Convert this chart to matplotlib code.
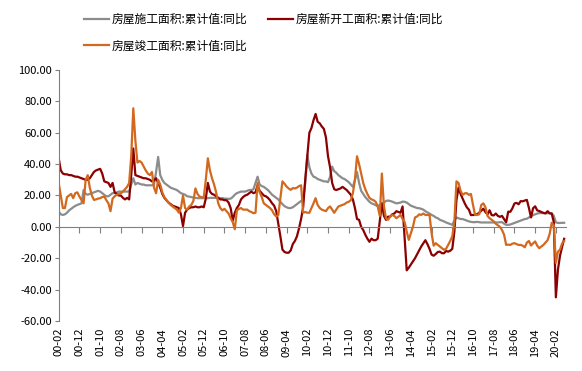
import matplotlib
matplotlib.use('Agg')
import matplotlib.pyplot as plt
import numpy as np
import pandas as pd
from matplotlib.ticker import FormatStrFormatter

# monthly, 2000-02 .. 2020-06
months = pd.period_range('2000-02', '2020-06', freq='M')
month_labels = list(months.strftime('%y-%m'))

# 房屋施工面积:累计值:同比
construction = [
    9.8, 8, 7.6, 8, 9, 10.5, 11.5, 12.5, 13.4, 14, 14.5,                  # 2000
    15, 23.5, 21, 20.5, 21, 21.5, 22, 22.5, 23, 22.5, 21.5, 20.4,         # 2001
    19.5, 19.5, 20.5, 21.5, 21.5, 22, 22.5, 22.5, 22.5, 22.5, 22.5, 22.5, # 2002
    27, 31, 27, 28, 27.5, 27, 27, 26.5, 26.5, 26.5, 26.5, 27,             # 2003
    35, 44.6, 33, 30, 28, 27, 26, 25, 24.5, 24, 23.5, 22.5,               # 2004
    21.5, 21, 20.5, 19.5, 19.3, 19, 18.7, 18.5, 18.3, 18.3, 18.3, 18.3,   # 2005
    18.3, 18.3, 18.5, 18.5, 18.5, 18.5, 18.5, 18.3, 18.3, 18, 18, 17.8,   # 2006
    18, 19, 20.5, 21.5, 22, 22.5, 22.5, 22.5, 23, 23.5, 23.5, 24,         # 2007
    28, 32, 27, 26, 25.5, 24.5, 23.5, 22, 20.5, 19.5, 18.5, 17.5,         # 2008
    16, 14.5, 13.2, 12.5, 12, 12, 12.5, 13.5, 14.5, 15.5, 16.5, 17.5,     # 2009
    28, 46, 38, 34, 32, 31.5, 30.5, 30, 29.5, 29, 29, 28.5,               # 2010
    32, 38.4, 35.5, 34.5, 33, 32, 31, 30.5, 29.5, 28.5, 27, 25.5,         # 2011
    30, 35, 28, 23, 21, 19, 17.5, 16, 15, 14.5, 13.8, 13.2,               # 2012
    14, 14.6, 15.5, 16.5, 16.8, 16.5, 16.1, 15.5, 15, 15.2, 15.5, 16.1,   # 2013
    16, 15.5, 14.5, 13.5, 13, 12.5, 12, 11.9, 11.5, 11, 10, 9.2,          # 2014
    8.5, 7.6, 7, 6, 5.5, 4.5, 4, 3.5, 2.8, 2.3, 1.8, 1.3,                 # 2015
    4, 6, 5.5, 5, 5, 4.5, 4, 3.5, 3.2, 3, 3, 3.2,                         # 2016
    3, 2.8, 2.8, 2.8, 2.8, 2.8, 2.8, 2.8, 2.8, 2.8, 3, 3,                 # 2017
    2, 1.3, 1.3, 1.5, 2, 2.5, 3, 3.5, 4, 4.5, 5, 5.2,                     # 2018
    6, 6.8, 7.5, 8, 8.5, 8.8, 8.8, 8.8, 8.7, 8.7, 8.7, 8.7,               # 2019
    7, 2.9, 2.5, 2.5, 2.6, 2.6,                                           # 2020
]

# 房屋新开工面积:累计值:同比
new_starts = [
    43.7, 36, 34, 33.5, 33.5, 33, 33, 32.5, 32, 32, 31.5,                 # 2000
    31, 30.5, 30, 30, 31, 33, 35, 36, 36.5, 37, 34, 29,                   # 2001
    28.5, 28, 25.5, 28, 22, 21, 20, 20, 18.5, 17.5, 18.5, 17.5,           # 2002
    33, 50, 33, 32.5, 32, 31.5, 31, 31, 30.5, 30, 29, 29.5,               # 2003
    31, 28, 25, 21, 18.5, 17, 15.5, 14.5, 13.5, 13, 12.5, 12,             # 2004
    8, 0.5, 9, 11, 12, 12.5, 12.5, 13, 12.5, 12.5, 13, 12.5,              # 2005
    18, 28, 22.5, 21, 20.5, 19.5, 18.5, 17.5, 17.5, 17, 17, 15.5,         # 2006
    12, 4, 9, 12, 14, 17.5, 19, 20, 20.5, 21.5, 22.5, 21.5,               # 2007
    22, 26.5, 23, 21.5, 20, 19.5, 18.5, 17, 15, 13.5, 10, 2,              # 2008
    -6, -14.5, -16, -16.5, -16.5, -15, -11, -9, -6, -1, 5, 12.5,          # 2009
    30, 45, 60, 63, 68, 72, 67, 66, 64, 62.5, 57, 45,                     # 2010
    38, 28, 24, 23.5, 24, 24.5, 25.5, 24.5, 23.5, 22, 20.5, 17.5,         # 2011
    12, 5, 4.5, 0, -2, -5, -7.5, -9.5, -7.5, -8.5, -8.5, -7.5,            # 2012
    4, 15, 7, 4.5, 6.5, 6.5, 8, 8.5, 10, 9.5, 9, 13,                      # 2013
    -7, -27.7, -26, -24, -22, -20, -17.5, -15, -12.5, -10.5, -8.5, -11,   # 2014
    -14, -17.7, -18.4, -17.3, -16, -15.8, -16.8, -16.8, -15.4, -15.8, -15.2, -14,  # 2015
    -3, 17, 25, 21, 18, 15, 12.5, 11, 7.5, 7.6, 7.6, 8.1,                 # 2016
    9, 10.4, 11.6, 9.4, 8, 10.6, 7.5, 7.3, 8.5, 7, 6.4, 7,                # 2017
    5, 2.9, 9.7, 9.6, 11.8, 14.9, 15.3, 14.4, 16.4, 16.3, 16.8, 17.2,     # 2018
    12, 6, 11.9, 13.1, 10.5, 10.1, 9.5, 8.9, 8.6, 10, 8.6, 8.5,           # 2019
    3, -44.9, -27.2, -18.4, -12.8, -7.6,                                  # 2020
]

# 房屋竣工面积:累计值:同比
completed = [
    27.8, 20, 12, 12, 19, 20, 21, 18.3, 21.5, 22, 19.3,                   # 2000
    17.2, 15, 30, 33, 25, 20, 17.2, 17.5, 18, 18.3, 19, 19.3,             # 2001
    17, 15, 10, 18, 19.5, 20.4, 21, 21.4, 22.5, 24, 25.5, 28,             # 2002
    45, 75.6, 55, 41, 42, 41, 38.5, 36, 34, 33, 35, 25,                   # 2003
    21.4, 30, 27, 22, 19, 17, 15.5, 14, 13, 12, 11, 9,                    # 2004
    12, 20, 12, 11, 13, 14, 16.5, 24.5, 21, 19.3, 19, 18.5,               # 2005
    30, 43.7, 36, 31, 27, 22, 15, 12, 10.5, 11.5, 10, 8.5,                # 2006
    5.5, 3, -1.5, 10.5, 11.5, 12, 11, 11, 11, 10, 9.5, 8.7,               # 2007
    9, 28, 22, 19, 15, 14, 13, 12, 10.5, 8, 6.6, 7.5,                     # 2008
    18, 29, 27.5, 25.7, 24.5, 23.6, 24.7, 24.5, 25, 26, 26.5, 9,          # 2009
    9.5, 9, 9, 12, 15, 18.3, 14, 12, 11, 10.5, 10, 12,                    # 2010
    13, 11, 9, 11, 13, 13.5, 14, 14.5, 15.5, 16, 17, 21.4,                # 2011
    30, 45, 40, 34, 28, 24, 21, 18.5, 17.5, 17, 16, 13,                   # 2012
    7, 34, 13, 5.5, 4.5, 6.5, 7.6, 7, 5.5, 6.5, 7.6, 5,                   # 2013
    3, -3, -8.3, -4, 0, 6, 6.6, 8, 7.6, 8.5, 7.6, 7.6,                    # 2014
    7.6, -4, -12, -10.4, -11.5, -12.5, -13.6, -14.6, -14, -11.5, -9, -6,  # 2015
    3, 29, 28, 23, 20.4, 21.4, 21.5, 20.4, 21, 14, 7.6, 7.6,              # 2016
    8, 14, 15, 12.5, 7, 5.5, 4.5, 3.5, 2, 1, 0, -2,                       # 2017
    -5, -11.5, -11.3, -11.5, -10.7, -10.4, -11, -11.5, -11.5, -12, -13, -10,  # 2018
    -9, -11.9, -10.5, -9.3, -12, -13.6, -12.5, -11.5, -10, -8.5, -4.5, 2.6,   # 2019
    1, -22.9, -15.8, -14.5, -10.6, -9,                                    # 2020
]

names = ['房屋施工面积:累计值:同比', '房屋新开工面积:累计值:同比', '房屋竣工面积:累计值:同比']
colors = ['#8c8c8c', '#8b0000', '#d2691e']

plt.rcParams['font.family'] = ['Noto Sans CJK SC', 'DejaVu Sans']

x = np.arange(len(months))

fig = plt.figure(figsize=(5.82, 3.71), dpi=100)
ax = fig.add_axes([0.1009, 0.1348, 0.872, 0.6765])

h1, = ax.plot(x, construction, color=colors[0], lw=1.6, label=names[0])
h2, = ax.plot(x, new_starts, color=colors[1], lw=1.6, label=names[1])
h3, = ax.plot(x, completed, color=colors[2], lw=1.6, label=names[2])

ax.set_xlim(0, len(months))
ax.set_ylim(-60, 100)
ax.set_yticks(range(-60, 101, 20))
ax.yaxis.set_major_formatter(FormatStrFormatter('%.2f'))
ax.tick_params(axis='y', labelsize=8, length=3, color='#808080', pad=2)

for s in ['top', 'right']:
    ax.spines[s].set_visible(False)
ax.spines['left'].set_color('#808080')
ax.spines['bottom'].set_color('#808080')
ax.spines['bottom'].set_position(('data', 0))

tick_pos = x[::10]
ax.set_xticks(tick_pos)
ax.set_xticklabels([])
ax.tick_params(axis='x', length=4, color='#808080', direction='out')

# date labels sit at the bottom of the plot, not on the zero line
sec = ax.secondary_xaxis('bottom')
sec.set_xticks(tick_pos)
sec.set_xticklabels([month_labels[i] for i in tick_pos], rotation=90, fontsize=8)
sec.tick_params(length=0, pad=5)
sec.spines['bottom'].set_visible(False)

fig.legend(handles=[h1, h3, h2], loc='upper left', bbox_to_anchor=(0.145, 0.965),
           ncol=2, frameon=False, fontsize=8.5, handlelength=2.1,
           handletextpad=0.25, columnspacing=1.7, labelspacing=1.15,
           borderpad=0, borderaxespad=0)

fig.savefig('out.png', dpi=100)
